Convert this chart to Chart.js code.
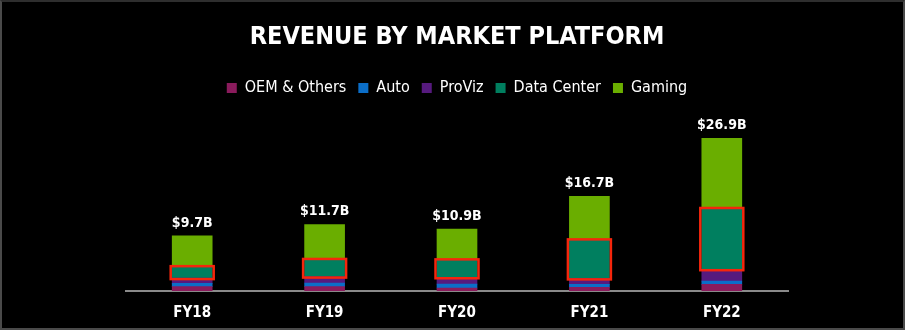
<!DOCTYPE html>
<html>
<head>
<meta charset="utf-8">
<script src="https://cdn.jsdelivr.net/npm/chart.js@4"></script>
<style>
  html, body { margin: 0; padding: 0; background: #000; }
  #wrap { position: relative; width: 905px; height: 330px; box-sizing: border-box; border: 2px solid #4a4a4a; border-top-color: #2e2e2e; }
  #revChart { position: absolute; left: -2px; top: -2px; }
</style>
</head>
<body>
<div id="wrap"><canvas id="revChart" width="905" height="330"></canvas></div>
<script>
const years = ['FY18', 'FY19', 'FY20', 'FY21', 'FY22'];
// revenue in $B
const oemOthers = [0.78, 0.77, 0.51, 0.63, 1.16];
const auto = [0.56, 0.64, 0.70, 0.54, 0.57];
const proViz = [0.93, 1.13, 1.21, 1.05, 2.11];
const dataCenter = [1.93, 2.93, 2.98, 6.70, 10.61];
const gaming = [5.51, 6.25, 5.52, 7.76, 12.46];

const font = '"DejaVu Sans Condensed", "DejaVu Sans", sans-serif';

// red frame around the Data Center pieces
const dcBoxes = {
    id: 'dcBoxes',
    afterDatasetsDraw(chart) {
        const c = chart.ctx;
        const meta = chart.getDatasetMeta(3);
        c.save();
        c.strokeStyle = '#f5260c';
        c.lineWidth = 2.5;
        meta.data.forEach(bar => {
            const w = bar.width + 3;
            c.strokeRect(bar.x - w / 2, bar.y - 1, w, bar.base - bar.y + 2);
        });
        c.restore();
    }
};

// total above each column
const totals = {
    id: 'totals',
    afterDatasetsDraw(chart) {
        const c = chart.ctx;
        const top = chart.getDatasetMeta(4);
        c.save();
        c.fillStyle = '#fff';
        c.font = 'bold 14px ' + font;
        c.textAlign = 'center';
        c.textBaseline = 'bottom';
        years.forEach((y, i) => {
            const sum = oemOthers[i] + auto[i] + proViz[i] + dataCenter[i] + gaming[i];
            const bar = top.data[i];
            c.fillText('$' + sum.toFixed(1) + 'B', bar.x, bar.y - 6);
        });
        c.restore();
    }
};

new Chart(document.getElementById('revChart'), {
    type: 'bar',
    data: {
        labels: years,
        datasets: [
            { label: 'OEM & Others', data: oemOthers, backgroundColor: '#8a1b5c' },
            { label: 'Auto', data: auto, backgroundColor: '#0b6ec8' },
            { label: 'ProViz', data: proViz, backgroundColor: '#561a7e' },
            { label: 'Data Center', data: dataCenter, backgroundColor: '#007f5f' },
            { label: 'Gaming', data: gaming, backgroundColor: '#6aae00' }
        ]
    },
    options: {
        responsive: false,
        animation: false,
        layout: { padding: { left: 126, right: 117, bottom: 0 } },
        datasets: { bar: { barThickness: 40 } },
        scales: {
            x: {
                stacked: true,
                grid: { display: false, drawTicks: false },
                border: { display: true, color: '#8a8a8a', width: 2 },
                ticks: { color: '#fff', padding: 13, font: { family: font, size: 15, weight: 'bold' } },
                afterFit(scale) { scale.height = 39; }
            },
            y: {
                stacked: true,
                display: false,
                min: 0,
                max: 32.6
            }
        },
        plugins: {
            title: {
                display: true,
                text: 'REVENUE BY MARKET PLATFORM',
                color: '#fff',
                font: { family: font, size: 25, weight: 'bold' },
                padding: { top: 22, bottom: 16 }
            },
            legend: {
                labels: {
                    color: '#fff',
                    boxWidth: 10,
                    boxHeight: 10,
                    padding: 12,
                    font: { family: font, size: 16 }
                }
            },
            tooltip: { enabled: false }
        }
    },
    plugins: [dcBoxes, totals]
});
</script>
</body>
</html>
